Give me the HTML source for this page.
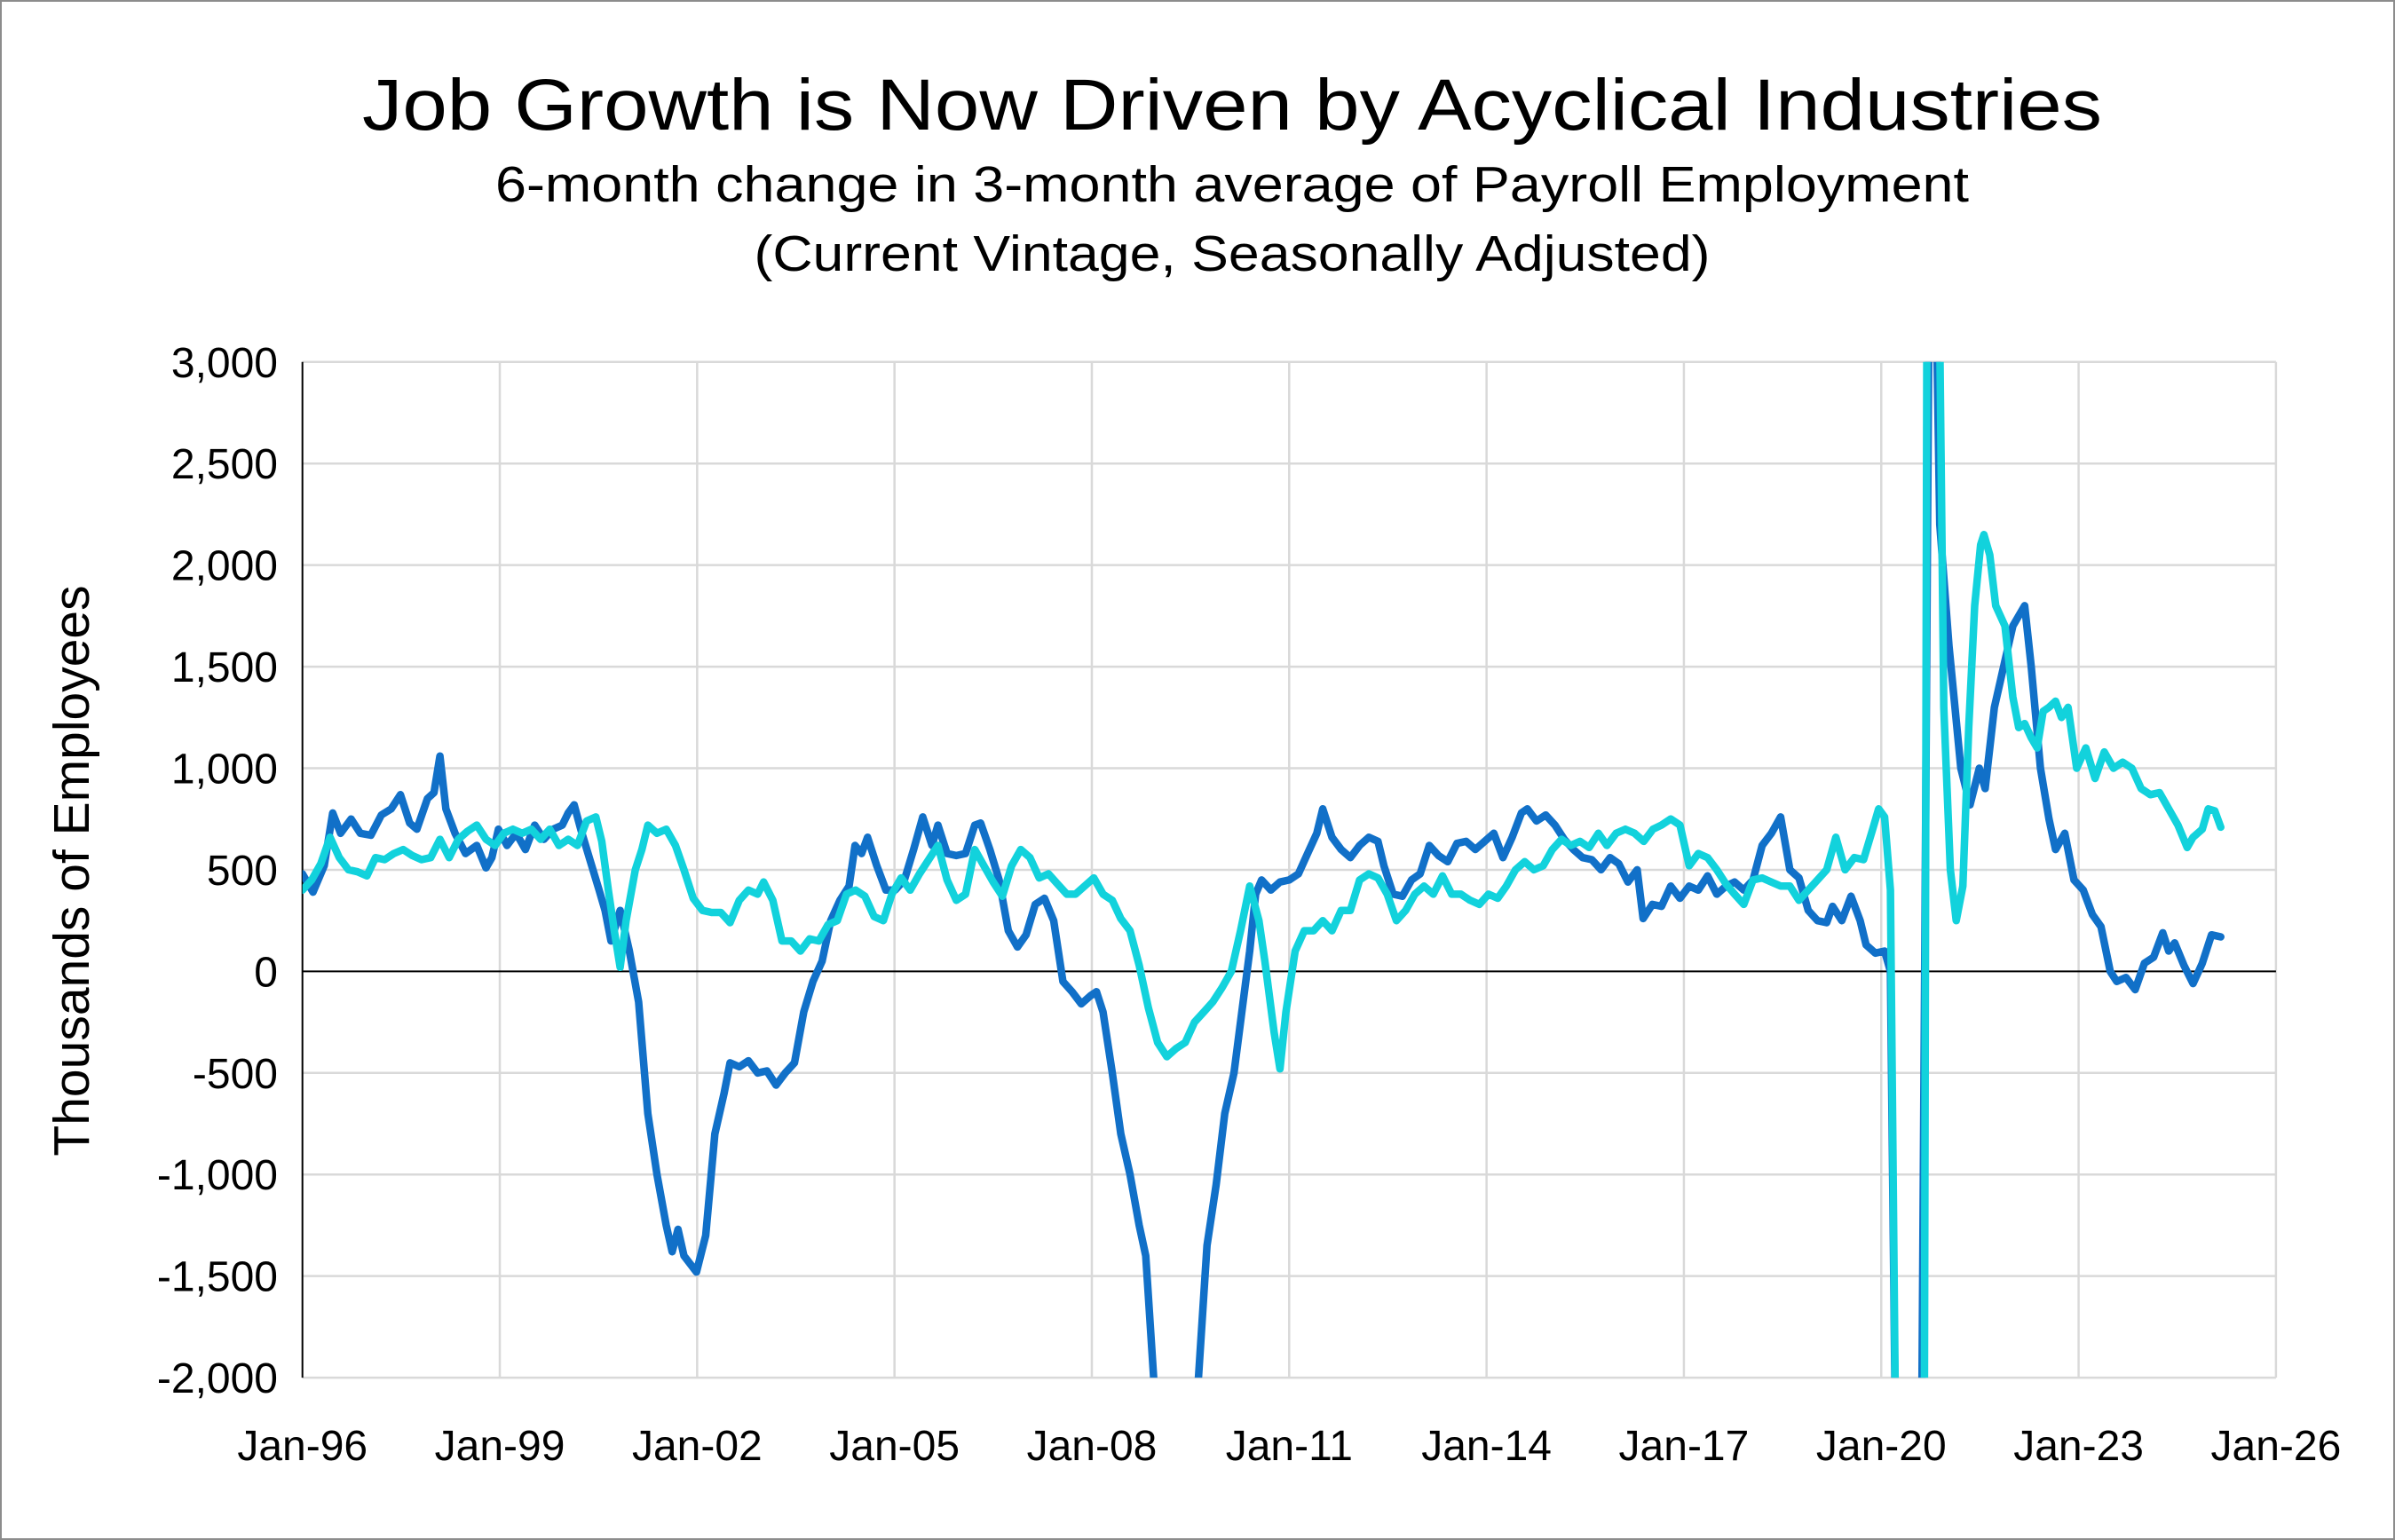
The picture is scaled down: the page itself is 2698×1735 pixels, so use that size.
<!DOCTYPE html>
<html><head><meta charset="utf-8"><style>
html,body{margin:0;padding:0;background:#fff;}
svg{display:block;font-family:"Liberation Sans",sans-serif;}
</style></head><body>
<svg id="chart" width="2698" height="1735" viewBox="0 0 2698 1735" xmlns="http://www.w3.org/2000/svg">
<rect x="1" y="1" width="2696" height="1733" fill="#fff" stroke="#8c8c8c" stroke-width="2"/>
<text x="1388" y="146" text-anchor="middle" font-size="82" textLength="1960" lengthAdjust="spacingAndGlyphs">Job Growth is Now Driven by Acyclical Industries</text>
<text x="1388" y="227" text-anchor="middle" font-size="57" textLength="1660" lengthAdjust="spacingAndGlyphs">6-month change in 3-month average of Payroll Employment</text>
<text x="1388" y="305" text-anchor="middle" font-size="57" textLength="1077" lengthAdjust="spacingAndGlyphs">(Current Vintage, Seasonally Adjusted)</text>
<text transform="translate(100,981) rotate(-90)" text-anchor="middle" font-size="57">Thousands of Employees</text>
<defs><clipPath id="plotclip"><rect x="340.7" y="407.8" width="2223.2" height="1144.3"/></clipPath></defs>
<g id="grid"></g>
<g id="axes"></g>
<g id="series" clip-path="url(#plotclip)"></g>
</svg>
<script>
const yTicks = [3000,2500,2000,1500,1000,500,0,-500,-1000,-1500,-2000];
const yTickLabels = ["3,000","2,500","2,000","1,500","1,000","500","0","-500","-1,000","-1,500","-2,000"];
const xTicks = [1996,1999,2002,2005,2008,2011,2014,2017,2020,2023,2026];
const xTickLabels = ["Jan-96","Jan-99","Jan-02","Jan-05","Jan-08","Jan-11","Jan-14","Jan-17","Jan-20","Jan-23","Jan-26"];

const blueDates = [1996.0,1996.16,1996.33,1996.46,1996.58,1996.74,1996.88,1997.04,1997.2,1997.35,1997.49,1997.63,1997.74,1997.9,1998.0,1998.09,1998.18,1998.32,1998.48,1998.65,1998.79,1998.88,1998.98,1999.11,1999.25,1999.39,1999.53,1999.67,1999.81,1999.95,2000.04,2000.13,2000.23,2000.37,2000.51,2000.6,2000.69,2000.83,2000.97,2001.11,2001.25,2001.39,2001.53,2001.62,2001.71,2001.8,2001.99,2002.13,2002.27,2002.41,2002.5,2002.64,2002.78,2002.92,2003.06,2003.2,2003.34,2003.48,2003.62,2003.76,2003.9,2004.03,2004.17,2004.31,2004.4,2004.5,2004.59,2004.73,2004.87,2005.01,2005.15,2005.29,2005.43,2005.57,2005.66,2005.8,2005.94,2006.08,2006.22,2006.31,2006.45,2006.59,2006.73,2006.87,2007.0,2007.14,2007.28,2007.42,2007.56,2007.7,2007.84,2007.98,2008.07,2008.17,2008.31,2008.44,2008.58,2008.72,2008.82,2008.96,2009.1,2009.4,2009.6,2009.75,2009.89,2010.02,2010.16,2010.3,2010.4,2010.49,2010.58,2010.72,2010.86,2011.0,2011.14,2011.28,2011.42,2011.51,2011.65,2011.79,2011.93,2012.07,2012.21,2012.35,2012.44,2012.58,2012.72,2012.86,2012.99,2013.13,2013.27,2013.41,2013.55,2013.69,2013.83,2013.97,2014.11,2014.25,2014.39,2014.53,2014.62,2014.76,2014.9,2015.04,2015.18,2015.32,2015.46,2015.6,2015.74,2015.88,2016.01,2016.15,2016.29,2016.38,2016.52,2016.66,2016.8,2016.94,2017.08,2017.22,2017.36,2017.5,2017.64,2017.77,2017.91,2018.05,2018.19,2018.33,2018.47,2018.61,2018.75,2018.89,2019.03,2019.17,2019.26,2019.4,2019.54,2019.68,2019.77,2019.91,2020.05,2020.14,2020.24,2020.5,2020.62,2020.74,2020.8,2020.89,2021.03,2021.12,2021.21,2021.35,2021.49,2021.58,2021.72,2021.86,2022.0,2022.09,2022.18,2022.28,2022.42,2022.55,2022.65,2022.79,2022.93,2023.07,2023.21,2023.34,2023.48,2023.58,2023.72,2023.86,2024.0,2024.14,2024.28,2024.37,2024.46,2024.6,2024.74,2024.88,2025.02,2025.16];
const blueValues = [480,390,520,780,680,750,680,670,770,800,870,730,700,850,880,1060,800,680,580,620,510,560,700,620,680,600,720,650,700,720,780,820,700,550,400,300,150,300,100,-150,-700,-1000,-1250,-1380,-1270,-1400,-1480,-1300,-800,-600,-450,-470,-440,-500,-490,-560,-500,-450,-200,-50,50,250,350,420,620,580,660,520,400,400,450,600,760,620,720,580,570,580,720,730,600,450,200,120,180,330,360,250,-50,-100,-160,-120,-100,-200,-500,-800,-1000,-1250,-1400,-2100,-3000,-3000,-2100,-1350,-1050,-700,-500,-150,100,380,450,400,440,450,480,580,680,800,660,600,560,620,660,640,520,380,370,450,480,620,570,540,630,640,600,640,680,560,660,780,800,740,770,720,650,600,560,550,500,560,530,440,500,260,330,320,420,360,420,400,470,380,420,440,400,450,620,680,760,500,460,300,250,240,320,250,370,250,130,90,100,0,-3000,-3000,-2000,4000,4000,2200,1600,1300,1000,820,1000,900,1300,1500,1700,1750,1800,1500,1000,750,600,680,450,400,280,220,0,-50,-30,-90,40,70,190,100,140,30,-60,40,180,170];

const cyanDates = [1996.0,1996.14,1996.28,1996.42,1996.56,1996.7,1996.84,1996.98,1997.11,1997.25,1997.39,1997.53,1997.67,1997.81,1997.95,1998.09,1998.23,1998.37,1998.51,1998.65,1998.79,1998.93,1999.06,1999.2,1999.34,1999.48,1999.62,1999.76,1999.9,2000.04,2000.18,2000.32,2000.46,2000.55,2000.65,2000.74,2000.83,2000.92,2001.06,2001.16,2001.25,2001.39,2001.53,2001.67,2001.8,2001.94,2002.08,2002.22,2002.36,2002.5,2002.64,2002.78,2002.92,2003.01,2003.15,2003.29,2003.43,2003.57,2003.71,2003.85,2003.99,2004.13,2004.27,2004.41,2004.55,2004.69,2004.83,2004.96,2005.1,2005.24,2005.38,2005.52,2005.66,2005.8,2005.94,2006.08,2006.22,2006.36,2006.5,2006.64,2006.78,2006.92,2007.06,2007.2,2007.34,2007.48,2007.62,2007.75,2007.89,2008.03,2008.17,2008.31,2008.44,2008.58,2008.72,2008.86,2009.0,2009.14,2009.28,2009.42,2009.56,2009.7,2009.84,2009.98,2010.12,2010.26,2010.4,2010.54,2010.63,2010.77,2010.86,2010.95,2011.09,2011.23,2011.37,2011.51,2011.65,2011.79,2011.93,2012.07,2012.21,2012.35,2012.49,2012.63,2012.77,2012.91,2013.05,2013.19,2013.33,2013.47,2013.61,2013.75,2013.89,2014.03,2014.17,2014.3,2014.44,2014.58,2014.72,2014.86,2015.0,2015.14,2015.28,2015.42,2015.56,2015.7,2015.83,2015.97,2016.11,2016.25,2016.39,2016.53,2016.66,2016.8,2016.94,2017.08,2017.22,2017.36,2017.5,2017.64,2017.77,2017.91,2018.05,2018.19,2018.33,2018.47,2018.61,2018.75,2018.89,2019.03,2019.17,2019.31,2019.45,2019.59,2019.73,2019.87,2019.96,2020.05,2020.14,2020.24,2020.5,2020.65,2020.7,2020.86,2020.95,2021.05,2021.14,2021.24,2021.33,2021.42,2021.51,2021.56,2021.65,2021.74,2021.88,2022.0,2022.09,2022.18,2022.28,2022.37,2022.46,2022.55,2022.65,2022.74,2022.84,2022.97,2023.11,2023.25,2023.39,2023.53,2023.67,2023.81,2023.95,2024.09,2024.23,2024.37,2024.51,2024.65,2024.74,2024.88,2024.97,2025.07,2025.16];
const cyanValues = [400,450,530,660,560,500,490,470,560,550,580,600,570,550,560,650,560,650,690,720,650,620,680,700,680,700,650,700,620,650,620,740,760,640,400,200,20,250,500,600,720,680,700,620,500,360,300,290,290,240,350,400,380,440,350,150,150,100,160,150,230,250,380,400,370,270,250,380,460,400,480,550,620,450,350,380,600,520,440,370,520,600,560,460,480,430,380,380,420,460,380,350,260,200,30,-180,-350,-420,-380,-350,-250,-200,-150,-80,0,200,420,250,50,-300,-480,-200,100,200,200,250,200,300,300,450,480,460,380,250,300,380,420,380,470,380,380,350,330,380,360,420,500,540,500,520,600,650,620,640,610,680,620,680,700,680,640,700,720,750,720,520,580,560,500,430,380,330,450,460,440,420,420,350,400,450,500,660,500,560,550,700,800,760,400,-3000,-3000,-3000,4000,4000,1300,500,250,420,1200,1800,2100,2150,2050,1800,1700,1350,1200,1220,1150,1100,1280,1300,1330,1250,1300,1000,1100,950,1080,1000,1030,1000,900,870,880,800,720,610,660,700,800,790,710];

const L=340.7,R=2563.9,T=407.8,B=1552.1;
const xMin=1996,xMax=2026,yMin=-2000,yMax=3000;
function xScale(t){return L+(t-xMin)/(xMax-xMin)*(R-L);}
function yScale(v){return B-(v-yMin)/(yMax-yMin)*(B-T);}
const NS="http://www.w3.org/2000/svg";
function mk(tag,attrs,parent){const e=document.createElementNS(NS,tag);for(const k in attrs)e.setAttribute(k,attrs[k]);parent.appendChild(e);return e;}
const grid=document.getElementById('grid'),axes=document.getElementById('axes'),series=document.getElementById('series');
yTicks.forEach((v,i)=>{
  const y=yScale(v);
  if(v!==0){const g=mk('line',{x1:L,x2:R,y1:y,y2:y,stroke:'#d9d9d9','stroke-width':2.5},grid);
  
  }
  const t=mk('text',{x:313,y:y+17,'text-anchor':'end','font-size':48},axes);
  t.textContent=yTickLabels[i];
  
  
});
xTicks.forEach((v,i)=>{
  const x=xScale(v);
  if(i>0){const g=mk('line',{x1:x,x2:x,y1:T,y2:B,stroke:'#d9d9d9','stroke-width':2.5},grid);
  
  }
  const t=mk('text',{x:x,y:1645,'text-anchor':'middle','font-size':48},axes);
  t.textContent=xTickLabels[i];
  
  
});
const ax=mk('line',{x1:L,x2:L,y1:T,y2:B,stroke:'#000','stroke-width':2},axes);


const zl=mk('line',{x1:L,x2:R,y1:yScale(0),y2:yScale(0),stroke:'#000','stroke-width':2},axes);


function drawLine(dates,vals,color,name){
  const d=dates.map((t,i)=>(i?'L':'M')+xScale(t).toFixed(1)+','+yScale(vals[i]).toFixed(1)).join('');
  const p=mk('path',{d:d,fill:'none',stroke:color,'stroke-width':8.5,'stroke-linejoin':'round','stroke-linecap':'round'},series);
  
  
}
drawLine(blueDates,blueValues,'#1170c8','cyclical-industries-line');
drawLine(cyanDates,cyanValues,'#12d2dc','acyclical-industries-line');
</script>
</body></html>
